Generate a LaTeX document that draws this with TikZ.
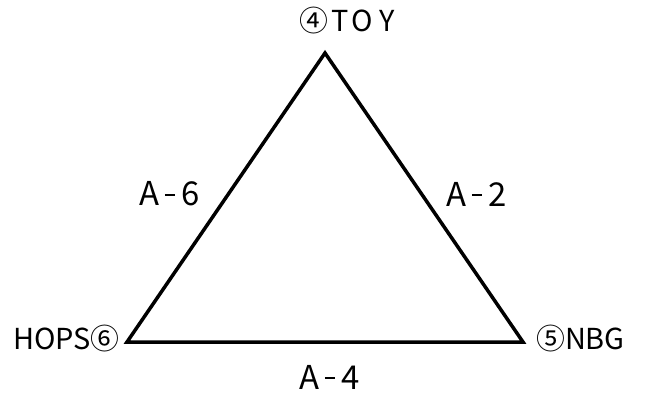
\documentclass[tikz,border=0pt]{standalone}
\usepackage{fontspec}
\setmainfont{Noto Sans CJK JP}
\usepackage{tikz}
\usetikzlibrary{positioning}

\newcommand{\linename}[1]{A\kern5bp\rule[0.3em]{0.3em}{0.055em}\kern7bp#1}

\begin{document}
\begin{tikzpicture}[x=1bp,y=-1bp,
    lbl/.style={inner sep=0pt,font=\fontsize{29}{29}\selectfont},
    edgelbl/.style={inner sep=0pt,font=\fontsize{33}{33}\selectfont}]
    \useasboundingbox (0,0) rectangle (647,397);

    % Vertices of the triangle
    \coordinate (toy) at (325,53);
    \coordinate (hops) at (127,342);
    \coordinate (nbg) at (523,342);

    % Triangle
    \draw[line width=3.5bp,line join=miter] (toy) -- (nbg) -- (hops) -- cycle;

    % Station labels
    \node[lbl] (toylbl) at (347,21) {④\kern3bp T\kern3bp O\kern6bp Y};
    \node[lbl,anchor=east] (hopslbl) at (120,339) {HOPS⑥};
    \node[lbl,anchor=west] (nbglbl) at (536,339) {⑤NBG};

    % Line labels
    \node[edgelbl] (a6) at (170,194) {\linename{6}};
    \node[edgelbl] (a2) at (477,194) {\linename{2}};
    \node[edgelbl] (a4) at (330,377) {\linename{4}};
\end{tikzpicture}
\end{document}
